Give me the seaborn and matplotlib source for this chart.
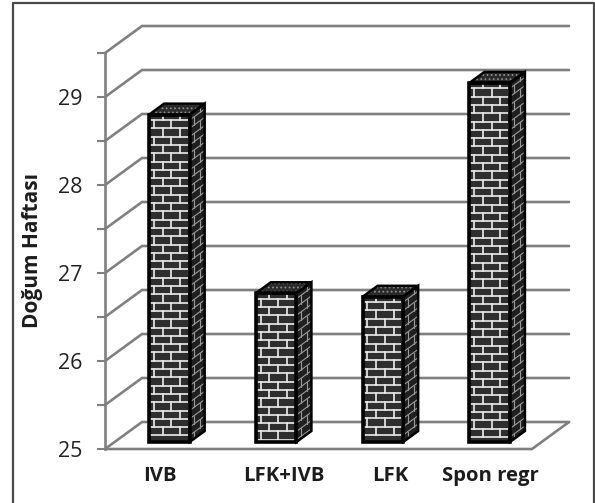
import numpy as np
import pandas as pd
import matplotlib
matplotlib.use("Agg")
import matplotlib.pyplot as plt
from matplotlib.patches import Polygon, Rectangle
from matplotlib.lines import Line2D
import seaborn as sns

categories = ["IVB", "LFK+IVB", "LFK", "Spon regr"]
weeks = [28.72, 26.69, 26.65, 29.08]
tick_values = [25, 25.5, 26, 26.5, 27, 27.5, 28, 28.5, 29, 29.5]
tick_labels = ["25", "", "26", "", "27", "", "28", "", "29", ""]
y_title = "Doğum Haftası"

W, H = 595, 503
LEFT, RIGHT, BOTTOM, TOP = 105, 532, 449, 53   # pixel box of the front plane
GRID = "#808080"
DARK = "#2e2e2e"

sns.set_theme(style="white")
plt.rcParams["font.family"] = ["Open Sans", "DejaVu Sans"]
plt.rcParams["hatch.linewidth"] = 0.8

fig = plt.figure(figsize=(W / 100, H / 100), dpi=100, facecolor="white")


def box(dx=0, dy=0):
    return [(LEFT + dx) / W, (H - BOTTOM + dy) / H, (RIGHT - LEFT) / W, (BOTTOM - TOP) / H]


ax = fig.add_axes(box())
ax.set_xlim(-0.5, 3.5)
ax.set_ylim(25, 29.5)
px_x = 4 / (RIGHT - LEFT)
px_y = 4.5 / (BOTTOM - TOP)

# back wall and floor of the fake 3D box
wall_x, wall_y = 37 * px_x, 27 * px_y
for v in tick_values:
    ax.plot([-0.5, -0.5 + wall_x, 3.5 + wall_x], [v, v + wall_y, v + wall_y],
            color=GRID, lw=1.9, clip_on=False, solid_joinstyle="miter")
ax.plot([-0.5, 3.5, 3.5 + wall_x], [25, 25, 25 + wall_y], color=GRID, lw=1.9, clip_on=False)

for side in ["top", "right", "bottom"]:
    ax.spines[side].set_visible(False)
ax.spines["left"].set_color(GRID)
ax.spines["left"].set_linewidth(1.9)
ax.set_xticks([])
ax.set_yticks(tick_values)
ax.set_yticklabels(tick_labels, fontsize=15.5, color="#222222")
ax.tick_params(axis="y", left=True, length=6, width=1.5, color=GRID, pad=10)
ax.patch.set_alpha(0)

# bars live on their own axes, nudged into the box depth
ax_bar = fig.add_axes(box(11, 7))
df = pd.DataFrame({"group": categories, "week": weeks})
sns.barplot(data=df, x="group", y="week", color=DARK, saturation=1, width=0.38, ax=ax_bar)
ax_bar.set_xlim(-0.5, 3.5)
ax_bar.set_ylim(25, 29.5)
ax_bar.axis("off")

depth_x, depth_y = 15 * px_x, 11 * px_y
row_h = 8.3 * px_y
brick_w = 17.5 * px_x

for bar in ax_bar.patches:
    x0, x1 = bar.get_x(), bar.get_x() + bar.get_width()
    top = bar.get_height()
    base = 25
    bar.set_edgecolor("none")

    face = Rectangle((x0, base), x1 - x0, top - base, fc=DARK, ec="none", clip_on=False)
    ax_bar.add_patch(face)
    rows = int((top - base) / row_h) + 1
    for r in range(rows):
        yy = top - (r + 0.65) * row_h
        if yy <= base:
            break
        m = ax_bar.plot([x0, x1], [yy, yy], color="#eeeeee", lw=1.2, clip_on=True)[0]
        m.set_clip_path(face)
        start = x0 + (0.28 if r % 2 else 0.78) * brick_w
        for jx in np.arange(start, x1, brick_w):
            j = ax_bar.plot([jx, jx], [yy, yy + row_h], color="#eeeeee", lw=1.2)[0]
            j.set_clip_path(face)
    ax_bar.add_patch(Rectangle((x0, base), x1 - x0, top - base, fc="none", ec="black",
                               lw=2.6, clip_on=False, zorder=5))

    # right side face, bricks follow the slant
    side_pts = [(x1, base), (x1 + depth_x, base + depth_y), (x1 + depth_x, top + depth_y), (x1, top)]
    side_face = Polygon(side_pts, fc="#1f1f1f", ec="none", clip_on=False)
    ax_bar.add_patch(side_face)
    for r in range(rows + 2):
        yy = top - (r + 0.65) * row_h
        m = ax_bar.plot([x1, x1 + depth_x], [yy, yy + depth_y], color="#9a9a9a", lw=0.8)[0]
        m.set_clip_path(side_face)
        frac = 0.3 if r % 2 else 0.7
        sx = x1 + frac * depth_x
        rise = depth_y * frac
        j = ax_bar.plot([sx, sx], [yy + rise, yy + rise + row_h], color="#9a9a9a", lw=0.8)[0]
        j.set_clip_path(side_face)
    ax_bar.add_patch(Polygon(side_pts, fc="none", ec="black", lw=1.8, clip_on=False, zorder=5))

    # top face with its speckle
    top_pts = [(x0, top), (x1, top), (x1 + depth_x, top + depth_y), (x0 + depth_x, top + depth_y)]
    ax_bar.add_patch(Polygon(top_pts, fc="#2a2a2a", ec="#8c8c8c", lw=0, hatch="....", clip_on=False, zorder=4))
    ax_bar.add_patch(Polygon(top_pts, fc="none", ec="black", lw=1.8, clip_on=False, zorder=5))

# labels are not evenly spaced in the source
label_px = [160, 284, 390, 490]
for name, xp in zip(categories, label_px):
    fig.text(xp / W, 1 - 476 / H, name, ha="center", va="center", fontsize=14.6,
             fontweight="bold", color="#1c1c1c")
fig.text(33 / W, 1 - 250 / H, y_title, rotation=90, ha="center", va="center",
         fontsize=15, fontweight="bold", color="#1c1c1c")

# outer frame, open at the bottom
frame_x = [12.5 / W, 12.5 / W, 594 / W, 594 / W]
frame_y = [0, 1 - 3 / H, 1 - 3 / H, 0]
fig.add_artist(Line2D(frame_x, frame_y, color="#4a4a4a", lw=1.6, transform=fig.transFigure))

fig.savefig("out.png", dpi=100)
